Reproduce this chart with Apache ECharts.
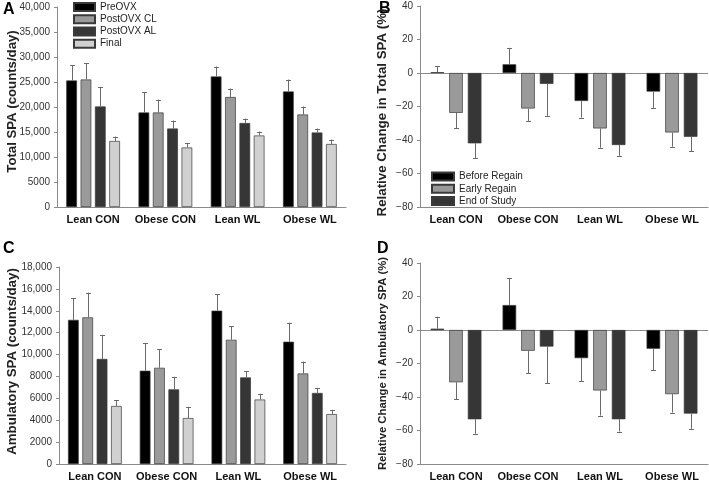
<!DOCTYPE html>
<html>
<head>
<meta charset="utf-8">
<script src="https://cdn.jsdelivr.net/npm/echarts@6/dist/echarts.min.js"></script>
<style>html,body{margin:0;padding:0;background:#fff}#c{width:709px;height:482px}</style>
</head>
<body>
<div id="c"></div>
<script>
// ---- data ----
const categories = ['Lean CON', 'Obese CON', 'Lean WL', 'Obese WL'];
const seriesAC = ['PreOVX', 'PostOVX CL', 'PostOVX AL', 'Final'];
const seriesBD = ['Before Regain', 'Early Regain', 'End of Study'];
const axisTitles = ['Total SPA (counts/day)', 'Relative Change in Total SPA (%)',
  'Ambulatory SPA (counts/day)', 'Relative Change in Ambulatory SPA (%)'];
const panelLetters = ['A', 'B', 'C', 'D'];

// Panel A: Total SPA (counts/day)
const totalPre = [25300, 18900, 26100, 23100];
const totalPreSE = [3100, 4100, 2000, 2400];
const totalCL = [25500, 18900, 22000, 18500];
const totalCLSE = [3300, 2600, 1700, 1600];
const totalAL = [20100, 15700, 16800, 14900];
const totalALSE = [3900, 1600, 900, 800];
const totalFinal = [13200, 11900, 14300, 12600];
const totalFinalSE = [900, 900, 800, 900];

// Panel B: Relative change in total SPA (%)
const relTotBefore = [0.5, 5.2, -16.7, -11.1];
const relTotBeforeSE = [3.7, 9.8, 9.9, 9.7];
const relTotEarly = [-23.8, -21.2, -33.1, -35.5];
const relTotEarlySE = [9.3, 7.4, 11.5, 8.5];
const relTotEnd = [-42.0, -6.5, -43.0, -38.1];
const relTotEndSE = [9.0, 19.1, 6.4, 8.5];

// Panel C: Ambulatory SPA (counts/day)
const ambPre = [13170, 8520, 14010, 11170];
const ambPreSE = [1960, 2530, 1480, 1750];
const ambCL = [13400, 8790, 11350, 8270];
const ambCLSE = [2270, 1700, 1240, 1090];
const ambAL = [9600, 6820, 7910, 6490];
const ambALSE = [2200, 1150, 580, 460];
const ambFinal = [5300, 4200, 5890, 4560];
const ambFinalSE = [550, 1020, 540, 390];

// Panel D: Relative change in ambulatory SPA (%)
const relAmbBefore = [0.8, 14.9, -16.8, -11.2];
const relAmbBeforeSE = [7.1, 16.1, 13.8, 12.7];
const relAmbEarly = [-31.2, -12.4, -36.1, -38.3];
const relAmbEarlySE = [10.2, 13.5, 15.0, 11.0];
const relAmbEnd = [-53.3, -9.9, -53.3, -49.9];
const relAmbEndSE = [8.7, 21.9, 7.3, 9.1];

// ---- styles ----
const colorsAC = ['#000000', '#9a9a9a', '#363636', '#d0d0d0'];
const colorsBD = ['#000000', '#9a9a9a', '#363636'];
const FONT = "'Liberation Sans', Arial, sans-serif";

const chart = echarts.init(document.getElementById('c'), null, {renderer: 'canvas'});

const grids = [
  {left: 57, top: 7, width: 289, height: 200},
  {left: 420, top: 6, width: 288, height: 201},
  {left: 59, top: 267, width: 287, height: 198},
  {left: 420, top: 263, width: 288, height: 203}
];

function numFmt(v) {
  if (Math.abs(v) >= 10000) return v.toLocaleString('en-US');
  return String(v);
}
function pctFmt(v) { return v < 0 ? '\u2212' + Math.abs(v) : String(v); }

const xAxes = grids.map((g, i) => ({
  type: 'category', gridIndex: i, data: categories,
  axisLine: {onZero: false, lineStyle: {color: '#8a8a8a', width: 1}},
  axisTick: {show: false},
  axisLabel: {interval: 0, fontFamily: FONT, fontWeight: 'bold', fontSize: 11, color: '#111', margin: 7}
}));

const yLabel = (fmt) => ({formatter: fmt, fontFamily: FONT, fontSize: 10, color: '#333', margin: 7});
const yCommon = {
  type: 'value',
  splitLine: {show: false},
  axisLine: {show: true, lineStyle: {color: '#8a8a8a', width: 1}},
  axisTick: {show: true, length: 3, lineStyle: {color: '#8a8a8a'}}
};
const yAxes = [
  Object.assign({}, yCommon, {gridIndex: 0, min: 0, max: 40000, interval: 5000, axisLabel: yLabel(numFmt)}),
  Object.assign({}, yCommon, {gridIndex: 1, min: -80, max: 40, interval: 20, axisLabel: yLabel(pctFmt)}),
  Object.assign({}, yCommon, {gridIndex: 2, min: 0, max: 18000, interval: 2000, axisLabel: yLabel(numFmt)}),
  Object.assign({}, yCommon, {gridIndex: 3, min: -80, max: 40, interval: 20, axisLabel: yLabel(pctFmt)})
];

const series = [];
function addPanel(idx, names, values, ses, colors, bw, gap, zeroLine) {
  const n = names.length;
  const pitch = bw * (1 + gap);
  names.forEach((name, i) => {
    const s = {
      type: 'bar', name: name, xAxisIndex: idx, yAxisIndex: idx,
      data: values[i], barWidth: bw, barGap: (gap * 100) + '%',
      itemStyle: {color: colors[i], borderColor: '#3a3a3a', borderWidth: 0.7},
      z: 3
    };
    if (zeroLine && i === 0) {
      s.markLine = {silent: true, symbol: 'none', label: {show: false}, z: 2,
        lineStyle: {color: '#8a8a8a', width: 1, type: 'solid'},
        data: [{yAxis: 0}]};
    }
    series.push(s);
    const off = (i - (n - 1) / 2) * pitch;
    series.push({
      type: 'custom', name: name + ' SE', xAxisIndex: idx, yAxisIndex: idx, z: 4,
      silent: true,
      data: values[i].map((v, k) => [k, v, ses[i][k]]),
      renderItem: function (params, api) {
        const v = api.value(1), se = api.value(2);
        const sign = v >= 0 ? 1 : -1;
        const p0 = api.coord([api.value(0), v]);
        const p1 = api.coord([api.value(0), v + sign * se]);
        const x = Math.round(p0[0] + off) + 0.5;
        const style = {stroke: '#6a6a6a', lineWidth: 1, fill: null};
        return {type: 'group', children: [
          {type: 'line', shape: {x1: x, y1: p0[1], x2: x, y2: p1[1]}, style: style},
          {type: 'line', shape: {x1: x - 2.5, y1: Math.round(p1[1]) + 0.5, x2: x + 2.5, y2: Math.round(p1[1]) + 0.5}, style: style}
        ]};
      }
    });
  });
}

addPanel(0, seriesAC, [totalPre, totalCL, totalAL, totalFinal],
  [totalPreSE, totalCLSE, totalALSE, totalFinalSE], colorsAC, 10.7, 0.34, false);
addPanel(1, seriesBD, [relTotBefore, relTotEarly, relTotEnd],
  [relTotBeforeSE, relTotEarlySE, relTotEndSE], colorsBD, 13.6, 0.37, true);
addPanel(2, seriesAC, [ambPre, ambCL, ambAL, ambFinal],
  [ambPreSE, ambCLSE, ambALSE, ambFinalSE], colorsAC, 10.7, 0.34, false);
addPanel(3, seriesBD, [relAmbBefore, relAmbEarly, relAmbEnd],
  [relAmbBeforeSE, relAmbEarlySE, relAmbEndSE], colorsBD, 13.6, 0.37, true);

const letterPos = [[3, 2], [379, 1], [3, 241], [377, 241]];
const titlePos = [[12, 101.5, 13.2], [382, 112.5, 13.3], [12, 361.5, 13.3], [382.5, 363.5, 11.3]];

const graphics = [];
panelLetters.forEach((t, i) => graphics.push({
  type: 'text', x: letterPos[i][0], y: letterPos[i][1],
  style: {text: t, fontFamily: FONT, fontWeight: 'bold', fontSize: 16, fill: '#000'}
}));
axisTitles.forEach((t, i) => graphics.push({
  type: 'text', x: titlePos[i][0], y: titlePos[i][1], rotation: Math.PI / 2,
  style: {text: t, fontFamily: FONT, fontWeight: 'bold', fontSize: titlePos[i][2], fill: '#222',
    align: 'center', verticalAlign: 'middle'}
}));

chart.setOption({
  animation: false,
  backgroundColor: '#fff',
  grid: grids,
  xAxis: xAxes,
  yAxis: yAxes,
  legend: [
    {data: seriesAC, orient: 'vertical', left: 73, top: 1, itemWidth: 21, itemHeight: 8,
     itemGap: 0, icon: 'rect', selectedMode: false, padding: 0,
     textStyle: {fontFamily: FONT, fontSize: 10, color: '#222', lineHeight: 12.2}},
    {data: seriesBD, orient: 'vertical', left: 431, top: 170.5, itemWidth: 22, itemHeight: 8,
     itemGap: 0, icon: 'rect', selectedMode: false, padding: 0,
     textStyle: {fontFamily: FONT, fontSize: 10, color: '#222', lineHeight: 12.2}}
  ],
  graphic: graphics,
  series: series
});
</script>
</body>
</html>
